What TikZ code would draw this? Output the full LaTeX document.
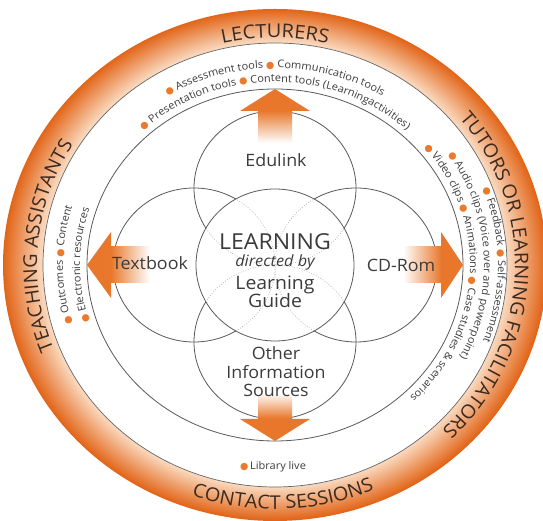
\documentclass[tikz,border=0pt]{standalone}
\usepackage{fontspec}
\setmainfont{Open Sans}[FakeStretch=1.05]
\newfontfamily\dejavu{DejaVu Sans}
\usetikzlibrary{decorations.text}
\definecolor{odark}{HTML}{E26518}
\definecolor{olight}{HTML}{FBDDC4}
\definecolor{aorange}{HTML}{E8772B}
\definecolor{borange}{HTML}{EA7A2C}
\definecolor{tgray}{HTML}{3C3C3C}
\definecolor{lgray}{HTML}{5A5A5A}
\definecolor{rlabel}{HTML}{3A2A20}
\newcommand\rtxt{\fontsize{10.5}{12}\selectfont\color{tgray}}
\newcommand\bult{\dejavu\fontsize{9.5}{10}\selectfont\color{borange}}
\newcommand\rlab{\fontsize{19}{22}\selectfont\color{rlabel}}
\tikzset{
  circ/.style={draw=lgray, line width=0.8pt},
  dotc/.style={draw=gray!70, line width=0.6pt, dash pattern=on 0.8pt off 1.8pt},
  lab/.style={font=\fontsize{17}{20}\selectfont, text=tgray, anchor=base, inner sep=0pt},
  biglab/.style={font=\fontsize{22}{24}\selectfont, text=tgray, anchor=base, inner sep=0pt},
  midlab/.style={font=\fontsize{18.5}{20}\selectfont, text=tgray, anchor=base, inner sep=0pt},
  itlab/.style={font=\fontsize{15.5}{18}\selectfont\itshape, text=tgray, anchor=base, inner sep=0pt},
  arrowhead/.style={fill=aorange},
}
\begin{document}
\begin{tikzpicture}[x=1pt,y=1pt]
\useasboundingbox (0,0) rectangle (543,521);
\fill[white] (0,0) rectangle (543,521);
\coordinate (C) at (275,256);
\begin{scope}[shift={(275,256)}]
% orange ring with gradient
\foreach \i in {0,...,40}{
  \pgfmathsetmacro\rx{272-\i}
  \pgfmathsetmacro\ry{256-\i*34/40}
  \pgfmathsetmacro\p{100-\i*2.5}
  \fill[odark!\p!olight] (0,0) ellipse[x radius=\rx, y radius=\ry];
}
\fill[white, draw=gray!80!black, line width=0.7pt] (0,0) ellipse[x radius=232, y radius=222];
% big circle
\draw[circ] (0,0) ellipse[x radius=188, y radius=176];
% four circles
\draw[circ] (0,77) ellipse[x radius=81, y radius=77];
\draw[circ] (0,-77) ellipse[x radius=81, y radius=77];
\draw[circ] (-81,0) ellipse[x radius=81, y radius=77];
\draw[circ] (81,0) ellipse[x radius=81, y radius=77];
\fill[white] (0,0) ellipse[x radius=79, y radius=76];
\begin{scope}
\clip (0,0) ellipse[x radius=79, y radius=76];
\draw[dotc] (0,77) ellipse[x radius=81, y radius=77];
\draw[dotc] (0,-77) ellipse[x radius=81, y radius=77];
\draw[dotc] (-81,0) ellipse[x radius=81, y radius=77];
\draw[dotc] (81,0) ellipse[x radius=81, y radius=77];
\end{scope}
\draw[circ] (0,0) ellipse[x radius=79, y radius=76];
% arrows
\shade[top color=aorange, bottom color=white] (-17,122) rectangle (17,154.5);
\fill[arrowhead] (-35,154) -- (0,176) -- (35,154) -- cycle;
\shade[bottom color=aorange, top color=white] (-17,-128) rectangle (17,-153.5);
\fill[arrowhead] (-35,-154) -- (0,-176) -- (35,-154) -- cycle;
\shade[left color=aorange, right color=white] (-164.5,-18) rectangle (-125,18);
\fill[arrowhead] (-164,33) -- (-188,0) -- (-164,-33) -- cycle;
\shade[right color=aorange, left color=white] (128,-18) rectangle (166.5,18);
\fill[arrowhead] (166,33) -- (188,0) -- (166,-33) -- cycle;
% labels
\node[lab] (edulink) at (1,98) {Edulink};
\node[lab] (textbook) at (-125,-5) {Textbook};
\node[lab] (cdrom) at (126,-7) {CD-Rom};
\node[biglab] (learn) at (0,15) {LEARNING};
\node[itlab] (dir) at (0,-2) {directed by};
\node[midlab] (lg1) at (0,-25) {Learning};
\node[midlab] (lg2) at (0,-43) {Guide};
\node[lab] (oth1) at (1,-95) {Other};
\node[lab] (oth2) at (1,-114) {Information};
\node[lab] (oth3) at (1,-132) {Sources};
\node[anchor=base, inner sep=0pt, font=\rtxt] (lib) at (-2,-205) {{\bult ●}\,Library live};
% ring labels
\path[decorate, decoration={text along path, text align=center, text={|\rlab|LECTURERS}}]
  (150:238 and 227) arc[start angle=150, end angle=30, x radius=238, y radius=227];
\path[decorate, decoration={text along path, text align=center, text={|\rlab|TUTORS OR LEARNING FACILITATORS}}]
  (88:240 and 229) arc[start angle=88, end angle=-94, x radius=240, y radius=229];
\path[decorate, decoration={text along path, text align=center, text={|\rlab|TEACHING ASSISTANTS}}]
  (265:238 and 227) arc[start angle=265, end angle=85, x radius=238, y radius=227];
\path[decorate, decoration={text along path, text align=center, text={|\rlab|CONTACT SESSIONS}}]
  (200:256 and 244) arc[start angle=200, end angle=344, x radius=256, y radius=244];
% ring small texts
\path[decorate, decoration={text along path, text align=center, text={|\bult|●|\rtxt| Assessment tools |\bult|●|\rtxt| Communication tools}}]
  (150:209 and 197) arc[start angle=150, end angle=30, x radius=209, y radius=197];
\path[decorate, decoration={text along path, text align=center, text={|\bult|●|\rtxt| Presentation tools |\bult|●|\rtxt| Content tools (Learningactivities)}}]
  (155:195 and 183) arc[start angle=155, end angle=25, x radius=195, y radius=183];
\path[decorate, decoration={text along path, text align=center, text={|\bult|●|\rtxt| Feedback |\bult|●|\rtxt| Self-assessment}}]
  (80:223 and 211) arc[start angle=80, end angle=-80, x radius=223, y radius=211];
\path[decorate, decoration={text along path, text align=center, text={|\bult|●|\rtxt| Audio clips (Voice over and powerpoint)}}]
  (85:209 and 197) arc[start angle=85, end angle=-79, x radius=209, y radius=197];
\path[decorate, decoration={text along path, text align=center, text={|\bult|●|\rtxt| Video clips |\bult|●|\rtxt| Animations |\bult|●|\rtxt| Case studies {\&} scenarios}}]
  (80:195 and 183) arc[start angle=80, end angle=-86, x radius=195, y radius=183];
\path[decorate, decoration={text along path, text align=center, text={|\bult|●|\rtxt| Outcomes |\bult|●|\rtxt| Content}}]
  (260:212 and 200) arc[start angle=260, end angle=100, x radius=212, y radius=200];
\path[decorate, decoration={text along path, text align=center, text={|\bult|●|\rtxt| Electronic resources}}]
  (260:195 and 183) arc[start angle=260, end angle=100, x radius=195, y radius=183];
\end{scope}
\end{tikzpicture}
\end{document}
